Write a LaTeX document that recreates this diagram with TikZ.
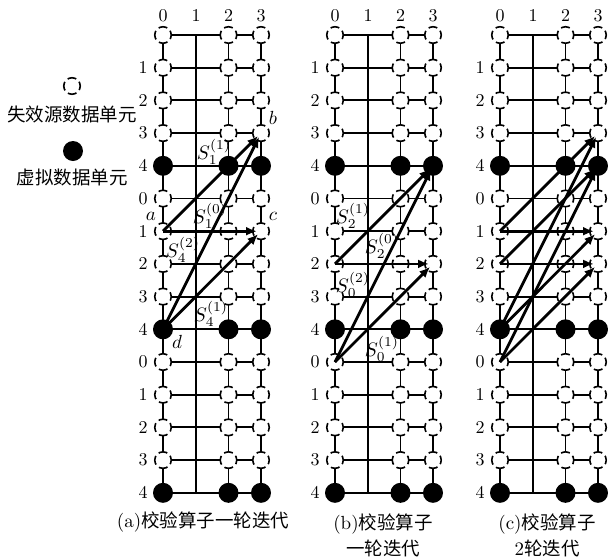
\documentclass[tikz,border=0pt]{standalone}
\usepackage{fontspec}
\usetikzlibrary{arrows.meta}
\newfontfamily\cjk{Noto Sans CJK SC}
% text set at the 10pt design size and enlarged, for a heavier stroke
\newcommand\enl[2]{\scalebox{#1}{#2}}
\tikzset{
  gridline/.style={line width=1.9pt},
  axisline/.style={line width=2.2pt},
  lost/.style={circle, draw, fill=white, minimum size=16.5pt, inner sep=0pt,
    line width=1.6pt, dash pattern=on 9pt off 3.96pt, dash phase=4.5pt},
  virt/.style={circle, fill=black, minimum size=20pt, inner sep=0pt},
  lbl/.style={font=\fontsize{10}{12}\selectfont, inner sep=0pt},
  captext/.style={font=\fontsize{18.5}{26}\selectfont, align=center, inner sep=0pt},
  syn/.style={line width=2.8pt, -{Latex[length=11pt,width=9pt]}, shorten >=4pt},
}
\begin{document}
\begin{tikzpicture}[x=1pt,y=-1pt]
\useasboundingbox (0,0) rectangle (608,558);

% three grids, each with columns 0..3 and rows 0..14
\foreach \g/\bx in {A/163, B/335, C/500}{
  \foreach \cc/\dx in {0/0, 1/33, 2/65.5, 3/98}{
    \node[lbl] (\g-col-\cc) at (\bx+\dx, 16) {\enl{1.8}{\cc}};
    \foreach \rr in {0,...,14}{
      \coordinate (\g-\cc-\rr) at (\bx+\dx, 35+32.7*\rr);
    }
  }
  % connecting lines
  \foreach \rr in {0,...,14}{
    \draw[gridline] (\g-0-\rr) -- (\g-3-\rr);
  }
  \foreach \cc in {0,2,3}{
    \draw[gridline] (\g-\cc-0) -- (\g-\cc-14);
  }
  \draw[axisline] (\g-1-0) -- (\g-1-14);
  % data units and row labels
  \foreach \rr in {0,...,14}{
    \pgfmathtruncatemacro\lab{mod(\rr,5)}
    \ifnum\rr>0
      \node[lbl] (\g-row-\rr) at (\bx-20, 35+32.7*\rr) {\enl{1.8}{\lab}};
    \fi
    \foreach \cc in {0,2,3}{
      \ifnum\lab=4
        \node[virt] (\g-n\cc-\rr) at (\g-\cc-\rr) {};
      \else
        \node[lost] (\g-n\cc-\rr) at (\g-\cc-\rr) {};
      \fi
    }
  }
}

% (a) one round of the check operator
\draw[syn] (A-n0-6.center) -- (A-n3-3.center);
\draw[syn] (A-n0-6.center) -- (A-n3-6.center);
\draw[syn] (A-n0-9.center) -- (A-n3-3.center);
\draw[syn] (A-n0-9.center) -- (A-n3-6.center);
\node[lbl] (la) at (151,216) {\enl{1.9}{$a$}};
\node[lbl] (lb) at (273,118) {\enl{1.9}{$b$}};
\node[lbl] (lc) at (273,216) {\enl{1.9}{$c$}};
\node[lbl] (ld) at (177,342) {\enl{1.9}{$d$}};
\node[lbl] (sa1) at (214,152) {\enl{1.95}{$S_1^{(1)}$}};
\node[lbl] (sa2) at (210,216) {\enl{1.95}{$S_1^{(0)}$}};
\node[lbl] (sa3) at (183,250) {\enl{1.95}{$S_4^{(2)}$}};
\node[lbl] (sa4) at (211,314) {\enl{1.95}{$S_4^{(1)}$}};

% (b) one round of the check operator
\draw[syn] (B-n0-7.center) -- (B-n3-4.center);
\draw[syn] (B-n0-7.center) -- (B-n3-7.center);
\draw[syn] (B-n0-10.center) -- (B-n3-4.center);
\draw[syn] (B-n0-10.center) -- (B-n3-7.center);
\node[lbl] (sb1) at (353,216) {\enl{1.95}{$S_2^{(1)}$}};
\node[lbl] (sb2) at (382,246) {\enl{1.95}{$S_2^{(0)}$}};
\node[lbl] (sb3) at (353,285) {\enl{1.95}{$S_0^{(2)}$}};
\node[lbl] (sb4) at (382,349) {\enl{1.95}{$S_0^{(1)}$}};

% (c) two rounds of the check operator
\draw[syn] (C-n0-6.center) -- (C-n3-3.center);
\draw[syn] (C-n0-6.center) -- (C-n3-6.center);
\draw[syn] (C-n0-9.center) -- (C-n3-3.center);
\draw[syn] (C-n0-9.center) -- (C-n3-6.center);
\draw[syn] (C-n0-7.center) -- (C-n3-4.center);
\draw[syn] (C-n0-7.center) -- (C-n3-7.center);
\draw[syn] (C-n0-10.center) -- (C-n3-4.center);
\draw[syn] (C-n0-10.center) -- (C-n3-7.center);

% legend
\node[lost] (legL) at (72,86) {};
\node[captext] (legLt) at (72,114) {\cjk 失效源数据单元};
\node[virt] (legV) at (73,151) {};
\node[captext] (legVt) at (72,177) {\cjk 虚拟数据单元};

% captions
\node[captext] (capA) at (203,522) {\enl{1.9}{\fontsize{10}{12}\selectfont(a)}{\cjk 校验算子一轮迭代}};
\node[captext] (capB) at (383,535) {\enl{1.9}{\fontsize{10}{12}\selectfont(b)}{\cjk 校验算子}\\{\cjk 一轮迭代}};
\node[captext] (capC) at (547,535) {\enl{1.9}{\fontsize{10}{12}\selectfont(c)}{\cjk 校验算子}\\\enl{1.9}{\fontsize{10}{12}\selectfont 2}{\cjk 轮迭代}};
\end{tikzpicture}
\end{document}
